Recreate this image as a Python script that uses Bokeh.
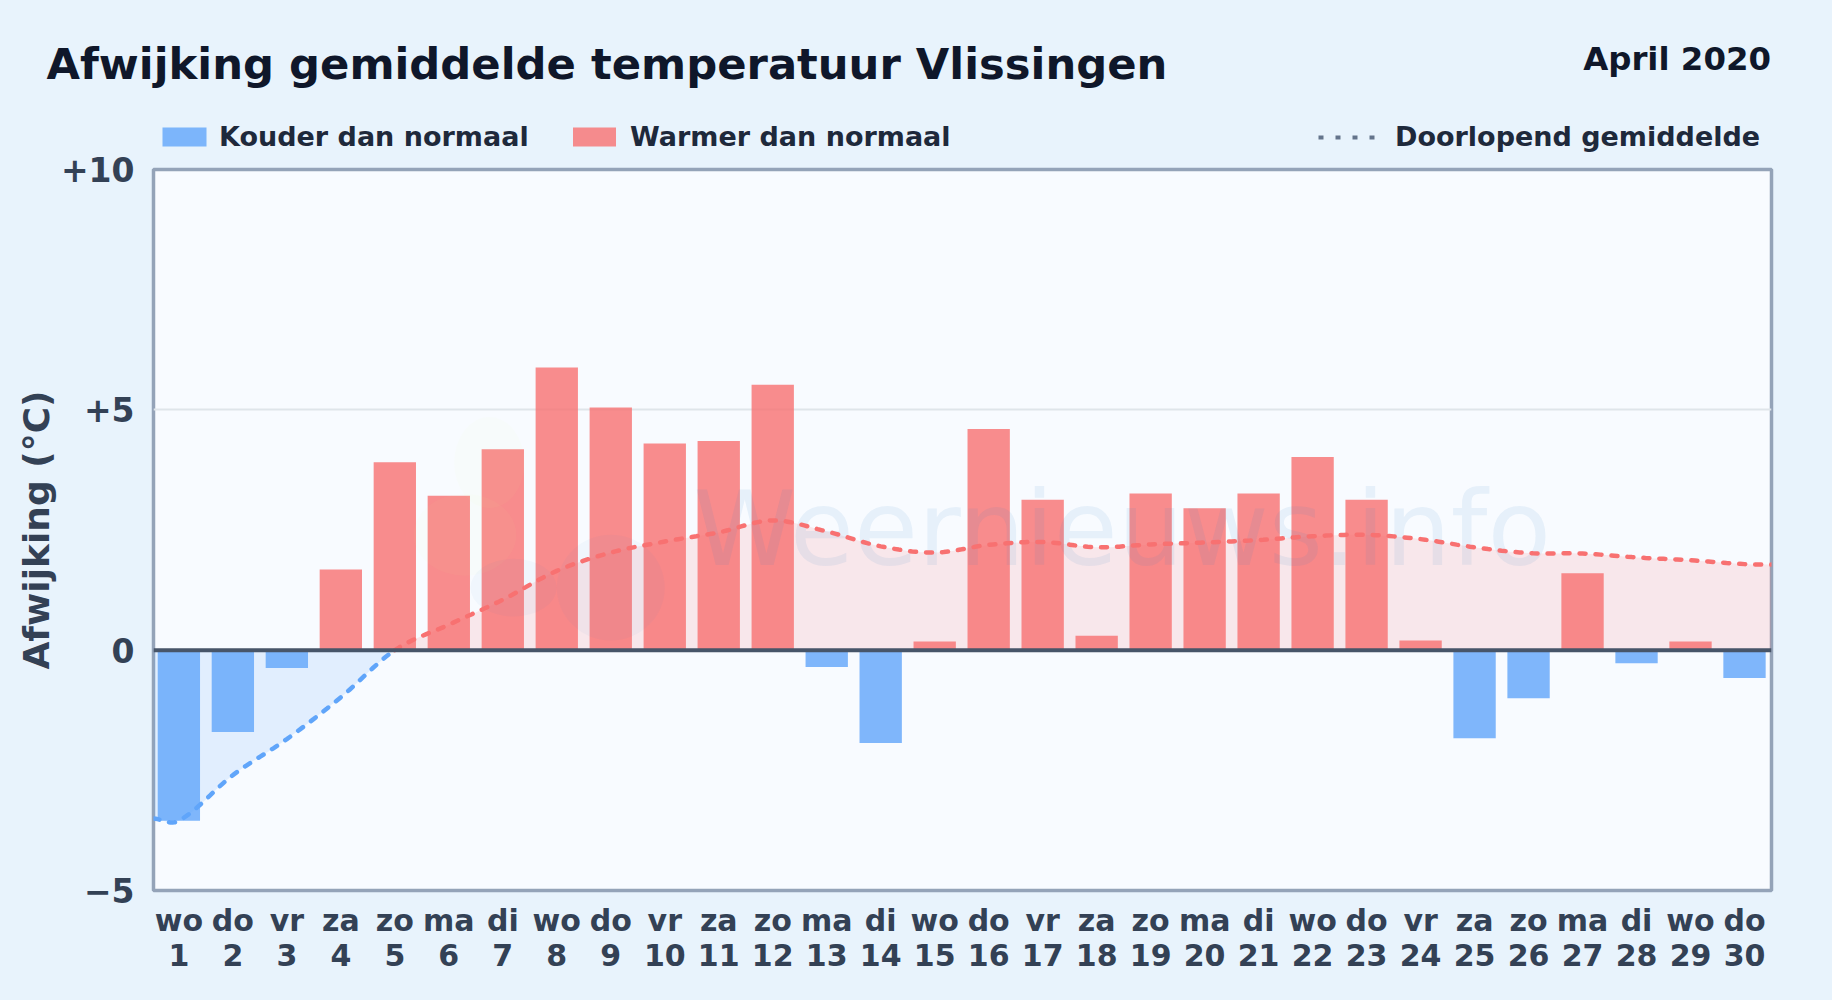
import numpy as np
from bokeh.core.properties import value
from bokeh.embed import file_html
from bokeh.resources import INLINE
from bokeh.plotting import figure
from bokeh.models import ColumnDataSource, FixedTicker, Range1d, Span

FONT = "DejaVu Sans"
days = list(range(1, 31))
weekdays = ["wo","do","vr","za","zo","ma","di"] * 4 + ["wo","do"]
deviation = [-3.55,-1.7,-0.37,1.68,3.91,3.21,4.18,5.88,5.05,4.3,4.35,5.52,-0.35,-1.93,0.18,
             4.6,3.13,0.3,3.26,2.95,3.26,4.02,3.13,0.2,-1.83,-1.0,1.6,-0.27,0.18,-0.58]
running = [-3.55,-2.6,-1.85,-0.98,0.0,0.53,1.05,1.65,2.03,2.26,2.45,2.7,2.47,2.16,2.03,
           2.19,2.25,2.14,2.2,2.24,2.29,2.37,2.4,2.31,2.14,2.02,2.01,1.93,1.87,1.79]
y_ticks = [-5, 0, 5, 10]
y_tick_labels = ["\u22125", "0", "+5", "+10"]
title_text = "Afwijking gemiddelde temperatuur Vlissingen"
period_text = "April 2020"
legend_cold = "Kouder dan normaal"
legend_warm = "Warmer dan normaal"
legend_mean = "Doorlopend gemiddelde"
y_title = "Afwijking (\u00b0C)"
watermark = "Weernieuws.info"

BLUE, RED = "#60a5fa", "#f87171"
XL, XR = 0.53, 30.5

W, H = 1832, 1000
HEAD = 154                              # height of the header strip
OVERLAP = 10                            # the chart's top margin slides under the header
FL, FR, FT, FB = 153, 1771, 169, 890    # frame edges on the page

# ---------- header: title, period, legend (a strip whose data units are page pixels)
head = figure(width=W, height=HEAD, output_backend="svg", toolbar_location=None,
              x_range=Range1d(0, W), y_range=Range1d(HEAD, 0),
              x_axis_location=None, y_axis_location=None,
              min_border=0, min_border_left=0, min_border_right=0, min_border_top=0, min_border_bottom=0,
              background_fill_color=None, border_fill_color=None, outline_line_color=None)
head.xgrid.visible = False
head.ygrid.visible = False

def htext(t, x, y, size, color, align="left"):
    # the renderer places "alphabetic" text about 0.35 em lower than the given y
    head.text(x=[x], y=[y - 0.35 * size], text=[t], text_font=value(FONT), text_font_style="bold",
              text_font_size=f"{size}px", text_color=color, text_align=align, text_baseline="alphabetic")

htext(title_text, 46, 79, 43.3, "#0f172a")
htext(period_text, 1770.5, 69.5, 32.4, "#0f172a", "right")
head.quad(left=[162], right=[206], top=[127], bottom=[146], fill_color=BLUE, fill_alpha=0.8, line_color=None)
head.quad(left=[572.5], right=[615.5], top=[127], bottom=[146], fill_color=RED, fill_alpha=0.8, line_color=None)
htext(legend_cold, 218.5, 145.7, 27, "#1e293b")
htext(legend_warm, 629.5, 145.7, 27, "#1e293b")
htext(legend_mean, 1394.5, 145.7, 27, "#1e293b")
head.line(x=[1318, 1374], y=[137, 137], line_color="#64748b", line_width=4, line_dash="5 12")

# ---------- main chart
p = figure(width=W, height=H - HEAD + OVERLAP, output_backend="svg", toolbar_location=None,
           x_range=Range1d(XL, XR), y_range=Range1d(-5, 10),
           min_border_left=FL, min_border_right=W - FR, min_border_top=FT - HEAD + OVERLAP, min_border_bottom=H - FB,
           background_fill_color="#f8fbff", border_fill_color=None,
           outline_line_color="#94a3b8", outline_line_width=3.5,
           styles={"margin-top": f"-{OVERLAP}px"})

# smooth display curve through the read values
xs = np.array([XL] + days + [XR], float)
ys = np.array([-3.5] + running + [1.78], float)
dx, dy = [], []
for i in range(len(xs) - 1):
    x0 = xs[max(i - 1, 0)]; x1 = xs[i]; x2 = xs[i + 1]; x3 = xs[min(i + 2, len(xs) - 1)]
    y0 = ys[max(i - 1, 0)]; y1 = ys[i]; y2 = ys[i + 1]; y3 = ys[min(i + 2, len(xs) - 1)]
    m1 = (y2 - y0) / (x2 - x0) if x2 != x0 else 0
    m2 = (y3 - y1) / (x3 - x1) if x3 != x1 else 0
    h = x2 - x1
    for t in np.linspace(0, 1, 12, endpoint=False):
        dx.append(x1 + t * h)
        dy.append((2*t**3-3*t**2+1)*y1 + (t**3-2*t**2+t)*h*m1 + (-2*t**3+3*t**2)*y2 + (t**3-t**2)*h*m2)
dx.append(xs[-1]); dy.append(ys[-1])
dx, dy = np.array(dx), np.array(dy)
ix = np.argmax(dy >= 0)
xc = dx[ix - 1] + (0 - dy[ix - 1]) * (dx[ix] - dx[ix - 1]) / (dy[ix] - dy[ix - 1])
neg_x = np.r_[dx[:ix], xc]; neg_y = np.r_[dy[:ix], 0.0]
pos_x = np.r_[xc, dx[ix:]]; pos_y = np.r_[0.0, dy[ix:]]

p.varea(x=neg_x, y1=neg_y, y2=0, fill_color=BLUE, fill_alpha=0.15)
p.varea(x=pos_x, y1=pos_y, y2=0, fill_color=RED, fill_alpha=0.14)

colors = [RED if v >= 0 else BLUE for v in deviation]
src = ColumnDataSource(dict(x=days, top=deviation, color=colors))
p.vbar(x="x", top="top", bottom=0, width=0.784, fill_color="color", fill_alpha=0.8, line_color=None, source=src)

# faint watermark: logo blobs and site name
logo_x = [6.75, 6.3, 7.2, 9.0]
logo_y = [3.9, 2.4, 1.3, 1.3]
logo_w = [1.3, 1.9, 1.6, 2.0]
logo_h = [1.9, 1.7, 1.2, 2.2]
logo_c = ["#d9f99d", "#d9f99d", "#3b82c4", "#3b82c4"]
p.ellipse(x=logo_x, y=logo_y, width=logo_w, height=logo_h, fill_color=logo_c, fill_alpha=0.04, line_color=None)
p.text(x=[10.53], y=[2.52], text=[watermark], text_font=value(FONT), text_font_size="104px",
       text_color="#3b82c4", text_alpha=0.09, text_baseline="alphabetic")

p.line(neg_x, neg_y, line_color=BLUE, line_width=4.5, line_dash="6 10", line_cap="round")
p.line(pos_x, pos_y, line_color=RED, line_width=4.5, line_dash="6 10", line_cap="round")

p.add_layout(Span(location=0, dimension="width", line_color="#475569", line_width=4))

p.xaxis.ticker = FixedTicker(ticks=days)
p.xaxis.major_label_overrides = {d: f"{w}\n{d}" for d, w in zip(days, weekdays)}
p.yaxis.ticker = FixedTicker(ticks=y_ticks)
p.yaxis.major_label_overrides = dict(zip(y_ticks, y_tick_labels))
for ax in (p.xaxis[0], p.yaxis[0]):
    ax.axis_line_color = None
    ax.major_tick_line_color = None
    ax.minor_tick_line_color = None
    ax.major_label_text_font = FONT
    ax.major_label_text_font_style = "bold"
    ax.major_label_text_color = "#334155"
p.xaxis[0].major_label_text_font_size = "30px"
p.yaxis[0].major_label_text_font_size = "33px"
p.xaxis.major_label_standoff = 6
p.xaxis[0].major_label_text_line_height = 1.0
p.yaxis.major_label_standoff = 13
p.yaxis.axis_label = y_title
p.yaxis.axis_label_text_font = FONT
p.yaxis.axis_label_text_font_style = "bold"
p.yaxis.axis_label_text_font_size = "36px"
p.yaxis.axis_label_text_color = "#334155"
p.yaxis.axis_label_standoff = 1
p.xgrid.visible = False
p.ygrid.ticker = FixedTicker(ticks=[5])
p.ygrid.grid_line_color = "#dfe5ea"
p.ygrid.grid_line_width = 2

html = file_html([head, p], INLINE)
html = html.replace("<head>", "<head><style>html,body{background:#e8f3fc;overflow:hidden}</style>", 1)
open("out.html", "w").write(html)
